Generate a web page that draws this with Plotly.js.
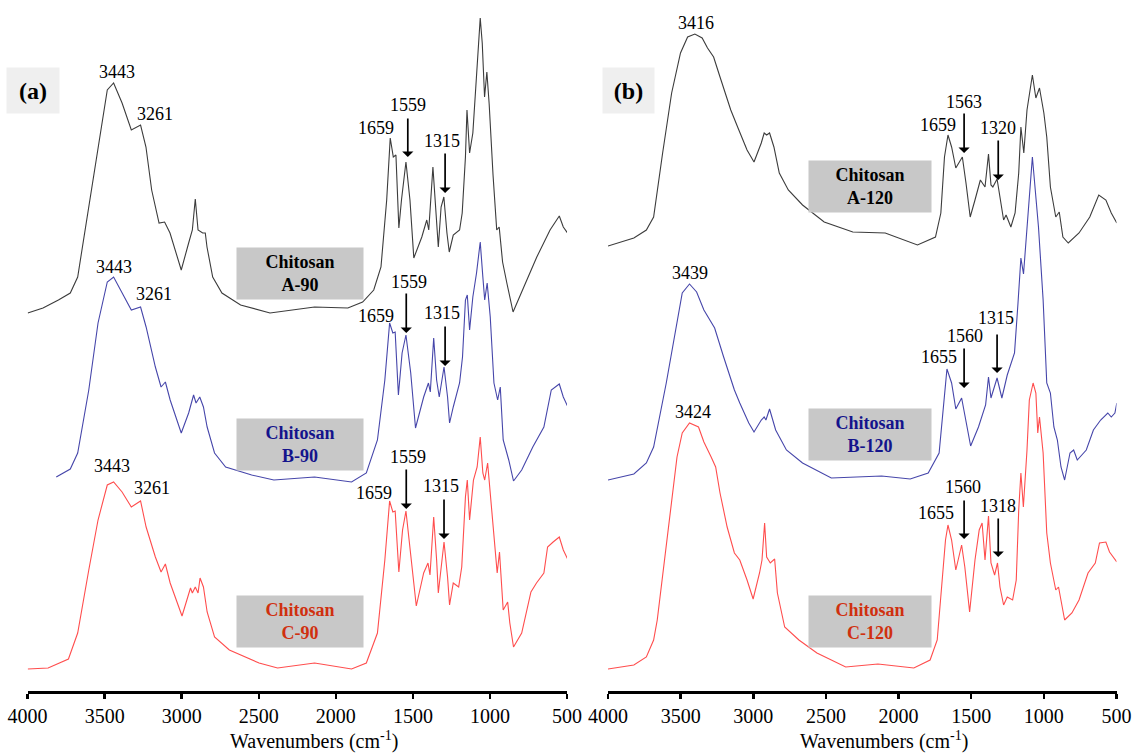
<!DOCTYPE html>
<html>
<head>
<meta charset="utf-8">
<script src="https://cdn.plot.ly/plotly-3.0.1.min.js"></script>
<style>html,body{margin:0;padding:0;background:#fff;}#chart{width:1143px;height:754px;}</style>
</head>
<body>
<div id="chart"></div>
<script>
// ---------- data (wavenumber in cm-1, stacked intensity in arbitrary units) ----------
const tickVals = [4000, 3500, 3000, 2500, 2000, 1500, 1000, 500];
const tickLabels = ["4000", "3500", "3000", "2500", "2000", "1500", "1000", "500"];

const wnA90 = [3999,3900,3800,3723,3675,3603,3531,3483,3442,3387,3327,3267,3232,3195,3147,3111,3076,3003,2955,2931,2912,2894,2864,2847,2836,2799,2739,2618,2427,2138,1922,1826,1754,1707,1670,1647,1627,1610,1591,1574,1545,1519,1494,1442,1410,1397,1370,1351,1335,1317,1299,1279,1264,1238,1197,1180,1159,1149,1132,1111,1095,1075,1063,1050,1035,1020,1005,980,956,940,918,889,850,783,696,610,550,524,487];
const absA90 = [378,383,391,398,414,484,558,601,608,588,561,566,544,501,468,469,458,421,448,461,492,461,458,458,444,414,398,386,378,384,383,389,401,424,491,553,534,536,463,491,529,491,433,454,471,461,524,474,444,484,494,458,439,456,461,478,534,581,538,558,594,646,673,648,594,619,587,516,461,464,429,407,379,403,434,461,475,464,456];

const wnB90 = [3814,3723,3675,3603,3543,3483,3442,3387,3327,3267,3231,3171,3134,3106,3075,3003,2955,2923,2907,2883,2859,2835,2787,2715,2546,2402,2138,1898,1802,1730,1682,1651,1630,1615,1594,1570,1545,1514,1483,1430,1399,1387,1365,1346,1329,1298,1275,1262,1238,1197,1178,1159,1147,1132,1111,1087,1063,1046,1034,1018,998,974,950,933,914,878,847,794,722,650,602,550,524,494];
const absB90 = [214,222,238,301,368,409,414,398,381,384,364,324,304,309,291,258,278,296,288,294,284,264,238,224,216,211,214,209,218,251,311,368,358,359,296,338,356,318,263,294,308,299,353,311,294,324,294,268,284,308,334,391,396,361,394,418,449,414,391,408,374,308,291,304,251,231,210,221,244,264,301,307,294,284];

const wnC90 = [3999,3867,3735,3675,3603,3543,3483,3442,3387,3327,3267,3231,3171,3134,3106,3075,2998,2960,2943,2931,2912,2894,2881,2859,2835,2787,2691,2498,2378,2138,1898,1802,1730,1682,1651,1630,1615,1591,1567,1545,1514,1478,1430,1402,1389,1365,1346,1335,1298,1275,1262,1238,1203,1183,1159,1147,1132,1107,1083,1063,1046,1034,1015,996,967,953,938,914,885,871,847,794,734,698,650,626,590,550,524,487];
const absC90 = [22,23,32,58,121,171,206,209,199,184,190,164,134,119,127,108,75,94,103,98,104,98,113,104,79,54,41,28,23,28,22,28,58,131,190,179,180,119,161,180,138,85,118,128,116,174,131,98,149,114,86,108,104,124,194,211,171,211,224,254,218,211,228,194,144,118,139,81,89,68,44,58,99,108,118,144,149,154,141,129];

const wnA120 = [4000,3822,3736,3686,3624,3562,3501,3452,3402,3352,3315,3273,3229,3155,3105,3043,2995,2945,2925,2908,2888,2858,2821,2759,2661,2512,2315,2092,1870,1746,1709,1684,1660,1635,1606,1561,1536,1507,1474,1437,1405,1381,1364,1351,1322,1297,1277,1260,1227,1198,1173,1158,1138,1116,1079,1055,1030,1000,980,955,918,894,869,832,758,684,622,573,536,498];
const absA120 = [445,453,461,474,538,598,638,654,657,653,643,634,614,581,563,541,529,548,558,556,558,544,518,501,486,469,459,458,446,454,478,534,556,544,523,534,508,474,491,511,504,537,506,504,512,491,471,476,464,478,518,564,538,581,616,593,603,578,554,504,474,479,454,448,458,474,496,491,478,468];

const wnB120 = [4000,3822,3736,3686,3599,3538,3489,3439,3390,3340,3266,3204,3130,3093,3031,2995,2945,2925,2913,2888,2846,2772,2661,2463,2117,1920,1796,1721,1692,1667,1635,1606,1566,1536,1504,1450,1401,1381,1364,1322,1289,1252,1202,1178,1158,1140,1079,1037,1005,980,955,931,907,882,857,820,795,770,708,659,609,560,536,511,498];
const absB120 = [211,217,228,244,308,358,398,407,399,381,363,334,301,288,268,259,271,274,271,282,261,241,228,213,215,212,218,238,284,322,308,282,293,268,245,264,286,314,293,313,293,316,338,388,433,417,534,464,391,308,298,264,251,224,211,238,241,231,241,261,271,278,274,278,288];

const wnC120 = [4000,3822,3736,3686,3661,3612,3562,3525,3489,3439,3377,3340,3290,3259,3229,3180,3130,3093,3043,3001,2957,2940,2922,2908,2883,2853,2834,2784,2686,2562,2364,2142,1895,1783,1734,1697,1677,1660,1635,1606,1566,1544,1511,1474,1445,1425,1405,1381,1364,1339,1319,1302,1277,1252,1215,1190,1173,1158,1141,1116,1100,1074,1055,1042,1030,1005,980,955,918,899,882,857,807,758,696,646,617,573,548,498];
const absC120 = [22,26,34,51,71,131,191,234,258,268,264,249,234,224,198,164,138,131,111,92,118,131,168,134,128,132,98,64,51,38,24,27,23,31,51,114,151,166,151,121,146,124,79,131,161,168,131,175,128,116,128,104,86,94,91,111,181,218,184,241,291,308,298,258,274,238,158,128,101,104,91,71,78,91,118,128,148,149,139,129];

const sampleNames = ["Chitosan A-90", "Chitosan B-90", "Chitosan C-90", "Chitosan A-120", "Chitosan B-120", "Chitosan C-120"];
const panelLetters = ["(a)", "(b)"];

// peak labels
const peakTextsA90 = ["3443", "3261", "1659", "1559", "1315"];
const peakTextsB90 = ["3443", "3261", "1659", "1559", "1315"];
const peakTextsC90 = ["3443", "3261", "1659", "1559", "1315"];
const peakTextsA120 = ["3416", "1659", "1563", "1320"];
const peakTextsB120 = ["3439", "1655", "1560", "1315"];
const peakTextsC120 = ["3424", "1655", "1560", "1318"];

// ---------- layout / placement ----------
const FONT = "'Liberation Serif', 'DejaVu Serif', serif";
const W = 1143, H = 754, PLOT_H = 691;
const colors = { A: "#3c3c3c", B: "#4646aa", C: "#ff4d4d" };
const labelColors = { A: "#000000", B: "#14148c", C: "#d0300f" };

const peakPos = {
  A90: [[3421,619],[3171,577],[1742,563],[1532,586],[1310,550]],
  B90: [[3442,424],[3183,397],[1742,375],[1526,409],[1310,378]],
  C90: [[3452,225],[3190,203],[1750,198],[1533,234],[1317,205]],
  A120: [[3394,668],[1729,566],[1553,589],[1319,563]],
  B120: [[3434,418],[1721,334],[1541,355],[1326,373]],
  C120: [[3414,279],[1739,178],[1558,204],[1319,185]]
};
// arrows: [wavenumber, tail level, tip level]
const arrowPos = {
  x: [[1533,574,534],[1291,539,498],[1543,399,358],[1291,366,325],[1543,223,182],[1298,193,152]],
  x2: [[1549,579,538],[1314,552,511],[1549,344,303],[1322,358,318],[1549,192,152],[1314,174,134]]
};
// sample label boxes: [wavenumber centre, level centre]
const boxPos = {
  x: [[2232,417.5],[2232,247],[2232,70]],
  x2: [[2197,504.5],[2197,257],[2197,70]]
};

const traces = [
  {x: wnA90, y: absA90, xaxis: 'x', c: colors.A, n: sampleNames[0]},
  {x: wnB90, y: absB90, xaxis: 'x', c: colors.B, n: sampleNames[1]},
  {x: wnC90, y: absC90, xaxis: 'x', c: colors.C, n: sampleNames[2]},
  {x: wnA120, y: absA120, xaxis: 'x2', c: colors.A, n: sampleNames[3]},
  {x: wnB120, y: absB120, xaxis: 'x2', c: colors.B, n: sampleNames[4]},
  {x: wnC120, y: absC120, xaxis: 'x2', c: colors.C, n: sampleNames[5]}
].map(t => ({
  type: 'scatter', mode: 'lines', x: t.x, y: t.y, xaxis: t.xaxis, yaxis: 'y',
  name: t.n, line: {color: t.c, width: 1.1}, hoverinfo: 'skip'
}));

const annotations = [];
function addPeaks(texts, pos, xref) {
  texts.forEach((t, i) => annotations.push({
    xref: xref, yref: 'y', x: pos[i][0], y: pos[i][1], text: t, showarrow: false,
    xanchor: 'center', yanchor: 'middle', font: {family: FONT, size: 18, color: '#000'}
  }));
}
addPeaks(peakTextsA90, peakPos.A90, 'x');
addPeaks(peakTextsB90, peakPos.B90, 'x');
addPeaks(peakTextsC90, peakPos.C90, 'x');
addPeaks(peakTextsA120, peakPos.A120, 'x2');
addPeaks(peakTextsB120, peakPos.B120, 'x2');
addPeaks(peakTextsC120, peakPos.C120, 'x2');

['x', 'x2'].forEach(xr => {
  arrowPos[xr].forEach(a => annotations.push({
    xref: xr, yref: 'y', x: a[0], y: a[2], ax: a[0], ay: a[1], axref: xr, ayref: 'y',
    text: '', showarrow: true, arrowhead: 1, arrowsize: 1.1, arrowwidth: 1.7, arrowcolor: '#000'
  }));
});

const boxColorKeys = ['A', 'B', 'C'];
['x', 'x2'].forEach((xr, p) => {
  boxPos[xr].forEach((b, i) => {
    const parts = sampleNames[p * 3 + i].split(' ');
    annotations.push({
      xref: xr, yref: 'y', x: b[0], y: b[1], showarrow: false,
      text: '<b>' + parts[0] + '</b><br><b>' + parts[1] + '</b>',
      xanchor: 'center', yanchor: 'middle', align: 'center',
      width: p === 0 ? 126 : 122, height: 51, borderpad: 0,
      bgcolor: '#c8c8c8', font: {family: FONT, size: 18, color: labelColors[boxColorKeys[i]]}
    });
  });
});

// panel letters
[[33.2, 52], [628.5, 51]].forEach((pl, i) => annotations.push({
  xref: 'paper', yref: 'y', x: pl[0] / W, y: PLOT_H - 90.5, showarrow: false,
  text: '<b>' + panelLetters[i] + '</b>', xanchor: 'center', yanchor: 'middle',
  width: pl[1], height: 45, borderpad: 0, bgcolor: '#efefef',
  font: {family: FONT, size: 24, color: '#000'}
}));

// axis titles
[314, 884].forEach(cx => annotations.push({
  xref: 'paper', yref: 'paper', x: cx / W, y: -(740 - PLOT_H) / PLOT_H, showarrow: false,
  text: 'Wavenumbers (cm<sup>-1</sup>)', xanchor: 'center', yanchor: 'middle',
  font: {family: FONT, size: 20, color: '#000'}
}));

function xAxis(domain) {
  return {
    domain: domain, range: [4000, 500], anchor: 'y',
    tickmode: 'array', tickvals: tickVals, ticktext: tickLabels,
    ticks: 'outside', ticklen: 5, tickwidth: 2.5, tickcolor: '#000',
    showline: true, linewidth: 3, linecolor: '#000',
    showgrid: false, zeroline: false,
    tickfont: {family: FONT, size: 20, color: '#000'}, fixedrange: true
  };
}

const layout = {
  width: W, height: H,
  margin: {l: 0, r: 0, t: 0, b: H - PLOT_H, pad: 0},
  paper_bgcolor: '#ffffff', plot_bgcolor: '#ffffff',
  showlegend: false,
  xaxis: xAxis([27.6 / W, 567 / W]),
  xaxis2: xAxis([608 / W, 1116.5 / W]),
  yaxis: {range: [0, PLOT_H], visible: false, fixedrange: true},
  annotations: annotations,
  font: {family: FONT}
};

Plotly.newPlot('chart', traces, layout, {staticPlot: true, displayModeBar: false});
</script>
</body>
</html>
